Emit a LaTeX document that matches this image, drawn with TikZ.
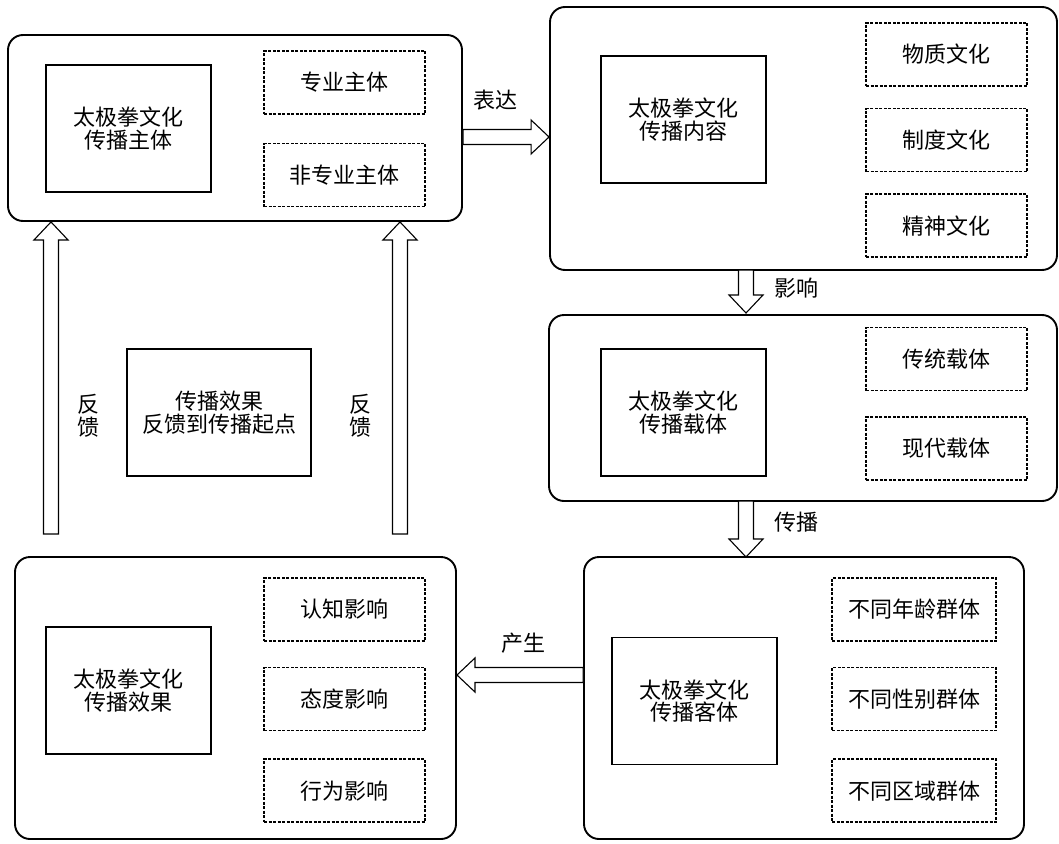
\documentclass[tikz,border=0pt]{standalone}
\usepackage{fontspec}
\newfontfamily\cjk{Noto Sans CJK SC}
\usetikzlibrary{calc, positioning}
\tikzset{
  outer/.style={draw, line width=1.9pt, rounded corners=15pt},
  core/.style={draw, line width=1.9pt, minimum width=165pt, minimum height=127pt, align=center, font=\cjk\fontsize{22}{22.5}\selectfont},
  part/.style={draw, line width=1.6pt, dash pattern=on 3pt off 1.5pt, minimum width=161pt, minimum height=63pt, font=\cjk\fontsize{22}{24}\selectfont},
  lab/.style={font=\cjk\fontsize{22}{23}\selectfont, align=center},
  blockarrow/.style={draw, line width=1.1pt, fill=white}
}
\newcommand\hollow[2]{%
  \coordinate (hb) at ($(#2)!18pt!(#1)$);
  \draw[blockarrow] ($(#1)!7.5pt!90:(#2)$) -- ($(hb)!7.5pt!90:(#2)$)
    -- ($(hb)!17pt!90:(#2)$) -- (#2) -- ($(hb)!17pt!-90:(#2)$)
    -- ($(hb)!7.5pt!-90:(#2)$) -- ($(#1)!7.5pt!-90:(#2)$) -- cycle;}

\begin{document}
\begin{tikzpicture}[x=1pt, y=-1pt]
  \useasboundingbox (0,0) rectangle (1059,843);

  % sender
  \node[outer, minimum width=454pt, minimum height=186pt] (send) at (235,128) {};
  \node[core] (sendc) at (128.5,128.5) {太极拳文化\\传播主体};
  \node[part] (pro)    at (344.5,82.5) {专业主体};
  \node[part] (nonpro) [below=28pt of pro] {非专业主体};

  % content
  \node[outer, minimum width=507pt, minimum height=263pt] (cont) at (803.5,138.5) {};
  \node[core] (contc) at (683.5,119.5) {太极拳文化\\传播内容};
  \node[part] (mat) at (946.5,54.5) {物质文化};
  \node[part] (ins) [below=21pt of mat] {制度文化};
  \node[part] (spi) [below=21pt of ins] {精神文化};

  % carrier
  \node[outer, minimum width=508pt, minimum height=186pt] (carr) at (803,408) {};
  \node[core] (carrc) at (683.5,412.5) {太极拳文化\\传播载体};
  \node[part] (trad) at (946.5,359) {传统载体};
  \node[part] (mod)  [below=25pt of trad] {现代载体};

  % receiver
  \node[outer, minimum width=440pt, minimum height=282pt] (recv) at (804,698) {};
  \node[core] (recvc) at (694.5,701) {太极拳文化\\传播客体};
  \node[part, minimum width=164pt] (age) at (914,609.5) {不同年龄群体};
  \node[part, minimum width=164pt] (sex) [below=25pt of age] {不同性别群体};
  \node[part, minimum width=164pt] (reg) [below=27pt of sex] {不同区域群体};

  % effect
  \node[outer, minimum width=441pt, minimum height=282pt] (eff) at (235.5,698) {};
  \node[core] (effc) at (128.5,690.5) {太极拳文化\\传播效果};
  \node[part] (cog) at (344.5,609.5) {认知影响};
  \node[part] (att) [below=25pt of cog] {态度影响};
  \node[part] (beh) [below=27pt of att] {行为影响};

  % feedback
  \node[core, minimum width=184pt] (fb) at (219,412.5) {传播效果\\反馈到传播起点};

  \coordinate (a1) at ($(send.east)+(0,9)$);
  \coordinate (b1) at (cont.west |- a1);
  \hollow{a1}{b1}
  \coordinate (a2) at (746,270);
  \coordinate (b2) at (746,313);
  \hollow{a2}{b2}
  \coordinate (a3) at (746,501);
  \coordinate (b3) at (746,557);
  \hollow{a3}{b3}
  \coordinate (a4) at (recv.west |- 0,675);
  \coordinate (b4) at (eff.east |- a4);
  \hollow{a4}{b4}
  \coordinate (a5) at (51,534);
  \coordinate (b5) at (send.south -| a5);
  \hollow{a5}{b5}
  \coordinate (a6) at (400,534);
  \coordinate (b6) at (send.south -| a6);
  \hollow{a6}{b6}

  \node[lab] at (495,100) {表达};
  \node[lab] at (796,288) {影响};
  \node[lab] at (796,522) {传播};
  \node[lab] at (523,643) {产生};
  \node[lab] at (88,416)  {反\\馈};
  \node[lab] at (360,416) {反\\馈};
\end{tikzpicture}
\end{document}
